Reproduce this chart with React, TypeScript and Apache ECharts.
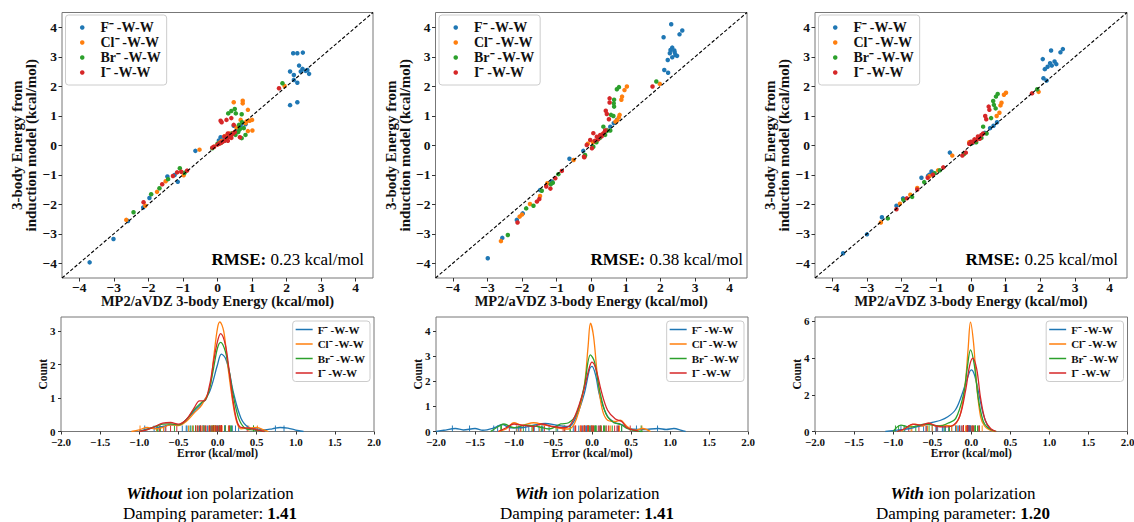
import React, { useEffect, useRef } from 'react';
import * as echarts from 'echarts';

// ---------------- DATA ----------------
const IONS = ['F⁻-W-W', 'Cl⁻-W-W', 'Br⁻-W-W', 'I⁻-W-W'];
const RMSE = ['0.23', '0.38', '0.25'];
const CAPTION_MODE = ['Without', 'With', 'With'];
const DAMPING = ['1.41', '1.41', '1.20'];
const SCATTER_TICKS = [-4, -3, -2, -1, 0, 1, 2, 3, 4];
const KDE_Y_TICKS = [[0, 1, 2, 3], [0, 1, 2, 3, 4], [0, 2, 4, 6]];
const KDE_Y_MAX = [3.43, 4.57, 6.24];
const DIAGONAL = [[-4.5, -4.5], [4.5, 4.5]];

// Panel 1: without ion polarization, damping 1.41  ([MP2, model])
const p1F = [[-3.70,-3.97],[-3.01,-3.18],[-2.59,-2.57],[-2.15,-2.11],[-1.97,-1.79],[-1.45,-1.06],[-1.24,-1.01],[-1.15,-1.24],[-0.64,-0.19],[0.04,0.16],[0.09,0.27],[0.20,0.22],[0.38,0.29],[0.47,0.66],[0.55,0.50],[0.62,0.52],[0.67,0.66],[0.81,0.71],[2.10,1.36],[2.31,1.46],[2.10,2.50],[2.19,3.12],[2.31,3.12],[2.47,3.14],[2.21,2.38],[2.21,2.21],[2.31,2.12],[2.36,2.70],[2.41,2.50],[2.46,2.59],[2.55,2.52],[2.60,2.55],[2.65,2.42]];
const p1Cl = [[-2.64,-2.53],[-2.09,-2.05],[-1.75,-1.58],[-1.50,-1.22],[-0.98,-1.02],[-0.52,-0.15],[-0.10,-0.05],[0.05,0.08],[0.12,0.15],[0.20,0.30],[0.28,0.35],[0.35,0.40],[0.47,1.46],[0.73,1.51],[0.73,1.42],[0.88,1.20],[0.67,0.86],[0.84,0.81],[0.93,0.83],[1.00,0.86],[0.81,0.75],[0.88,0.48],[1.01,0.50],[0.55,0.60],[1.94,2.01]];
const p1Br = [[-2.43,-2.27],[-1.92,-1.66],[-1.68,-1.46],[-1.43,-1.15],[-1.09,-0.78],[-0.95,-0.93],[-0.15,-0.10],[0.00,0.05],[0.10,0.08],[0.20,0.15],[0.31,1.08],[0.40,1.16],[0.50,1.23],[0.53,1.08],[0.70,1.05],[0.71,0.78],[0.62,0.69],[0.76,0.58],[0.81,0.35],[0.70,0.24],[0.52,0.35],[0.43,0.41],[0.35,0.30],[0.60,0.45],[0.65,0.55],[1.88,2.10]];
const p1I = [[-2.14,-1.93],[-1.60,-1.32],[-1.29,-1.04],[-1.17,-0.92],[-1.05,-0.90],[-0.88,-0.86],[-0.15,-0.08],[-0.10,-0.05],[0.00,0.02],[0.05,0.05],[0.10,0.08],[0.15,0.12],[0.20,0.15],[0.25,0.20],[0.30,0.25],[0.35,0.30],[0.40,0.35],[0.45,0.40],[0.50,0.45],[0.20,0.30],[0.30,0.40],[0.30,0.15],[0.40,0.25],[0.09,0.83],[0.12,0.78],[0.26,0.86],[0.40,0.92],[0.47,0.69],[0.65,0.27],[1.78,1.93]];

// Panel 2: with ion polarization, damping 1.41
const p2F = [[-2.99,-3.83],[-2.57,-3.14],[-2.15,-2.53],[-1.98,-2.31],[-1.48,-1.52],[-1.14,-1.23],[-0.63,-0.46],[-0.23,-0.19],[0.10,0.12],[0.26,0.32],[0.45,0.52],[0.55,0.63],[0.65,0.75],[0.74,0.86],[2.09,3.66],[2.31,4.10],[2.63,3.89],[2.55,3.76],[2.34,3.31],[2.29,3.23],[2.40,3.21],[2.27,3.12],[2.43,3.06],[2.21,2.89],[2.34,2.98],[2.48,3.03],[2.41,3.15],[2.11,2.55],[2.22,2.46]];
const p2Cl = [[-2.61,-3.25],[-2.07,-2.42],[-2.00,-2.35],[-1.77,-1.99],[-1.48,-1.72],[-1.27,-1.29],[-0.51,-0.50],[-0.10,0.05],[0.05,0.10],[0.15,0.15],[0.25,0.30],[0.35,0.40],[0.45,0.50],[0.80,0.95],[0.82,1.03],[0.87,1.54],[0.89,1.65],[0.96,1.87],[1.03,1.99],[0.75,0.85],[0.70,0.80],[1.98,2.08]];
const p2Br = [[-2.41,-3.04],[-1.88,-2.14],[-1.67,-2.05],[-1.43,-1.54],[-1.17,-1.32],[-1.11,-1.27],[-0.95,-0.98],[-0.18,-0.36],[-0.18,-0.33],[0.06,-0.05],[0.15,0.10],[0.25,0.25],[0.35,0.63],[0.45,0.48],[0.55,0.50],[0.57,1.03],[0.64,0.99],[0.66,1.31],[0.65,1.42],[0.66,1.54],[0.74,1.90],[0.80,1.97],[0.40,0.35],[1.88,2.16]];
const p2I = [[-2.13,-2.62],[-1.57,-1.91],[-1.50,-1.82],[-1.30,-1.40],[-1.18,-1.47],[-1.04,-1.12],[-0.85,-0.87],[-0.21,-0.39],[-0.20,-0.41],[-0.13,0.01],[0.02,-0.10],[-0.03,0.18],[0.06,0.41],[0.16,0.29],[0.26,0.35],[0.10,0.15],[0.20,0.20],[0.30,0.30],[0.35,0.40],[0.42,1.17],[0.45,1.06],[0.51,0.88],[0.53,1.45],[0.53,1.59],[0.40,0.50],[1.77,1.99]];

// Panel 3: with ion polarization, damping 1.20
const p3F = [[-3.69,-3.66],[-3.00,-3.02],[-2.57,-2.44],[-2.15,-2.05],[-1.96,-1.80],[-1.43,-1.10],[-1.24,-1.04],[-1.14,-0.89],[-1.20,-1.00],[-0.61,-0.25],[0.05,0.08],[0.25,0.28],[0.40,0.42],[0.55,0.58],[0.65,0.66],[0.75,0.78],[2.31,3.21],[2.65,3.26],[2.58,3.15],[2.07,2.92],[2.28,2.78],[2.41,2.84],[2.46,2.75],[2.33,2.70],[2.21,2.66],[2.13,2.58],[2.09,2.27],[2.18,2.19]];
const p3Cl = [[-2.60,-2.62],[-2.05,-1.98],[-1.75,-1.68],[-1.55,-1.45],[-1.20,-1.05],[-0.95,-0.85],[-0.54,-0.35],[-0.05,0.10],[0.10,0.15],[0.20,0.25],[0.74,0.99],[0.82,1.10],[0.85,1.35],[0.88,1.44],[0.95,1.71],[1.01,1.78],[1.95,1.81]];
const p3Br = [[-2.40,-2.48],[-1.95,-1.85],[-1.70,-1.75],[-1.35,-1.25],[-1.05,-0.95],[-0.90,-0.85],[-0.20,-0.30],[0.00,0.05],[0.15,0.10],[0.30,0.25],[0.35,0.63],[0.58,0.92],[0.71,1.25],[0.66,1.37],[0.64,1.50],[0.72,1.65],[0.77,1.74],[0.45,0.40],[1.91,1.90]];
const p3I = [[-2.15,-2.17],[-1.85,-1.80],[-1.55,-1.50],[-1.25,-1.10],[-1.10,-1.00],[-0.80,-0.75],[-0.25,-0.35],[-0.15,-0.25],[-0.05,0.05],[0.00,0.12],[0.05,0.10],[0.10,0.20],[0.15,0.18],[0.20,0.30],[0.25,0.22],[0.30,0.35],[0.35,0.40],[0.41,0.99],[0.44,0.88],[0.51,1.31],[0.53,1.20],[1.76,1.76]];

// KDE curves of the error (kcal/mol) -> density
const k1F = [[-1.0,0],[-0.9,0.08],[-0.8,0.1],[-0.7,0.15],[-0.6,0.2],[-0.5,0.2],[-0.4,0.35],[-0.3,0.6],[-0.2,0.85],[-0.1,1.2],[0,2.0],[0.05,2.32],[0.1,2.2],[0.15,1.8],[0.2,1.2],[0.3,0.4],[0.4,0.12],[0.5,0.08],[0.6,0.05],[0.7,0.08],[0.8,0.12],[0.9,0.1],[1.0,0.04],[1.1,0]];
const k1Cl = [[-1.1,0],[-1.0,0.05],[-0.9,0.12],[-0.8,0.08],[-0.7,0.12],[-0.6,0.2],[-0.5,0.18],[-0.4,0.3],[-0.3,0.55],[-0.2,0.8],[-0.1,1.3],[-0.05,2.2],[0.0,3.1],[0.03,3.28],[0.08,3.0],[0.13,2.0],[0.2,0.8],[0.25,0.25],[0.3,0.08],[0.4,0.1],[0.5,0.12],[0.6,0.04],[0.65,0]];
const k1Br = [[-1.0,0],[-0.9,0.06],[-0.8,0.15],[-0.7,0.22],[-0.6,0.23],[-0.5,0.2],[-0.4,0.35],[-0.3,0.65],[-0.2,0.88],[-0.15,0.95],[-0.1,1.3],[-0.05,1.9],[0.0,2.5],[0.04,2.67],[0.1,2.4],[0.15,1.8],[0.2,1.1],[0.27,0.4],[0.35,0.1],[0.45,0.05],[0.55,0.02],[0.6,0]];
const k1I = [[-1.0,0],[-0.9,0.05],[-0.8,0.15],[-0.7,0.25],[-0.6,0.27],[-0.5,0.22],[-0.4,0.35],[-0.3,0.7],[-0.23,0.92],[-0.17,0.92],[-0.1,1.4],[-0.05,2.1],[0.0,2.7],[0.04,2.93],[0.1,2.6],[0.15,1.8],[0.2,0.9],[0.25,0.3],[0.3,0.12],[0.4,0.1],[0.5,0.05],[0.6,0]];

const k2F = [[-2.0,0],[-1.9,0.05],[-1.75,0.12],[-1.65,0.06],[-1.5,0.12],[-1.4,0.05],[-1.25,0.15],[-1.15,0.28],[-1.05,0.15],[-0.9,0.15],[-0.75,0.25],[-0.6,0.32],[-0.45,0.25],[-0.3,0.2],[-0.2,0.6],[-0.1,1.5],[-0.03,2.5],[0.0,2.6],[0.05,2.2],[0.1,1.4],[0.2,0.6],[0.3,0.35],[0.4,0.25],[0.5,0.1],[0.65,0.08],[0.85,0.12],[0.95,0.08],[1.05,0.12],[1.15,0.04],[1.2,0]];
const k2Cl = [[-1.2,0],[-1.1,0.1],[-1.0,0.35],[-0.9,0.25],[-0.75,0.35],[-0.6,0.25],[-0.45,0.15],[-0.3,0.1],[-0.2,0.5],[-0.1,1.8],[-0.05,3.4],[-0.02,4.32],[0.02,3.8],[0.07,2.2],[0.13,0.9],[0.2,0.45],[0.3,0.4],[0.36,0.45],[0.45,0.2],[0.55,0.05],[0.65,0.12],[0.75,0]];
const k2Br = [[-1.3,0],[-1.2,0.2],[-1.13,0.3],[-1.0,0.15],[-0.85,0.25],[-0.7,0.2],[-0.55,0.1],[-0.4,0.3],[-0.3,0.35],[-0.2,0.7],[-0.1,1.8],[-0.02,3.06],[0.03,2.8],[0.1,1.6],[0.18,0.7],[0.28,0.35],[0.36,0.3],[0.45,0.12],[0.55,0.03],[0.65,0]];
const k2I = [[-1.2,0],[-1.1,0.15],[-1.0,0.3],[-0.9,0.25],[-0.75,0.2],[-0.65,0.3],[-0.5,0.2],[-0.35,0.15],[-0.25,0.4],[-0.12,1.5],[-0.03,2.6],[0.0,2.77],[0.05,2.5],[0.12,1.6],[0.2,0.85],[0.3,0.5],[0.38,0.4],[0.45,0.15],[0.55,0.05],[0.6,0]];

const k3F = [[-1.1,0],[-1.0,0.05],[-0.9,0.1],[-0.8,0.15],[-0.7,0.25],[-0.6,0.35],[-0.5,0.5],[-0.4,0.6],[-0.3,0.8],[-0.2,1.2],[-0.12,2.0],[-0.05,2.9],[0.0,3.36],[0.04,3.1],[0.1,2.0],[0.15,1.0],[0.2,0.4],[0.25,0.1],[0.3,0]];
const k3Cl = [[-0.9,0],[-0.8,0.3],[-0.72,0.4],[-0.62,0.3],[-0.55,0.45],[-0.45,0.3],[-0.35,0.35],[-0.25,0.3],[-0.15,0.8],[-0.08,2.5],[-0.04,4.5],[-0.01,5.96],[0.03,4.8],[0.07,2.5],[0.12,0.8],[0.17,0.3],[0.23,0.1],[0.3,0]];
const k3Br = [[-1.0,0],[-0.9,0.35],[-0.8,0.25],[-0.7,0.3],[-0.6,0.4],[-0.5,0.35],[-0.4,0.3],[-0.3,0.45],[-0.2,0.7],[-0.1,2.0],[-0.05,3.5],[-0.01,4.45],[0.04,3.6],[0.09,1.8],[0.15,0.6],[0.2,0.25],[0.28,0.05],[0.32,0]];
const k3I = [[-0.95,0],[-0.85,0.15],[-0.75,0.4],[-0.65,0.35],[-0.55,0.45],[-0.45,0.3],[-0.35,0.25],[-0.25,0.3],[-0.15,0.8],[-0.07,2.3],[-0.02,3.6],[0.02,4.0],[0.07,3.4],[0.12,1.8],[0.18,0.6],[0.25,0.15],[0.32,0]];

const SCATTER = [[p1F, p1Cl, p1Br, p1I], [p2F, p2Cl, p2Br, p2I], [p3F, p3Cl, p3Br, p3I]];
const KDE = [[k1F, k1Cl, k1Br, k1I], [k2F, k2Cl, k2Br, k2I], [k3F, k3Cl, k3Br, k3I]];

// ---------------- STYLE / LAYOUT ----------------
const COLORS = ['#1f77b4', '#ff7f0e', '#2ca02c', '#d62728'];
const FONT = 'Liberation Serif';
const TXT = '#111';
const SG = [
  { left: 62, top: 12.5, width: 311, height: 265.5 },
  { left: 435.5, top: 12.5, width: 311.5, height: 265.5 },
  { left: 815, top: 12.5, width: 312, height: 265.5 },
];
const KG = [
  { left: 61, top: 317, width: 313, height: 114.5 },
  { left: 436, top: 317, width: 312, height: 114.5 },
  { left: 815, top: 317, width: 312.5, height: 114.5 },
];
const RMSE_X = [364, 743, 1118];
const CAPTION_X = [210, 587, 963];

const fmt = (v: number, d: number) => (v < 0 ? '\u2212' : '') + Math.abs(v).toFixed(d);
const legendLabel = (n: string) => n.replace('⁻', '⁻\u2009');

function buildOption() {
  const grid: any[] = [];
  const xAxis: any[] = [];
  const yAxis: any[] = [];
  const series: any[] = [];
  const legend: any[] = [];
  const graphic: any[] = [];

  const tickStyle = { lineStyle: { color: '#333', width: 1 } };
  const noLine = { show: false, onZero: false };
  const tok = (size: number, extra: any = {}) => ({ fontFamily: FONT, fontSize: size, fill: '#000', ...extra });

  [...SG, ...KG].forEach((g) => {
    grid.push({ ...g, show: true, borderColor: '#777', borderWidth: 1, backgroundColor: 'transparent', containLabel: false, outerBoundsMode: 'none' });
  });

  // scatter panels
  SG.forEach((g, i) => {
    xAxis.push({
      type: 'value', gridIndex: i, min: -4.5, max: 4.5,
      splitLine: { show: false }, axisLine: noLine,
      axisTick: { show: true, length: 3.5, customValues: SCATTER_TICKS, ...tickStyle },
      axisLabel: { customValues: SCATTER_TICKS, formatter: (v: number) => fmt(v, 0), fontFamily: FONT, fontWeight: 'bold', fontSize: 13.5, lineHeight: 13, color: TXT, margin: 3 },
      name: 'MP2/aVDZ 3-body Energy (kcal/mol)', nameLocation: 'middle', nameGap: 16, nameMoveOverlap: false,
      nameTextStyle: { fontFamily: FONT, fontWeight: 'bold', fontSize: 14.5, lineHeight: 14, color: TXT },
    });
    yAxis.push({
      type: 'value', gridIndex: i, min: -4.5, max: 4.5,
      splitLine: { show: false }, axisLine: noLine,
      axisTick: { show: true, length: 3.5, customValues: SCATTER_TICKS, ...tickStyle },
      axisLabel: { customValues: SCATTER_TICKS, formatter: (v: number) => fmt(v, 0), fontFamily: FONT, fontWeight: 'bold', fontSize: 13.5, color: TXT, margin: 5 },
      name: '3-body Energy from\ninduction model (kcal/mol)', nameLocation: 'middle', nameRotate: 90, nameGap: 24, nameMoveOverlap: false,
      nameTextStyle: { fontFamily: FONT, fontWeight: 'bold', fontSize: 15, lineHeight: 14, color: TXT },
    });
    SCATTER[i].forEach((pts, j) => {
      series.push({
        type: 'scatter', name: IONS[j], xAxisIndex: i, yAxisIndex: i, data: pts,
        symbolSize: 4.5, itemStyle: { color: COLORS[j], opacity: 1 }, z: 3, silent: true,
      });
    });
    series.push({
      type: 'line', name: 'diag', xAxisIndex: i, yAxisIndex: i, data: DIAGONAL, symbol: 'none',
      lineStyle: { color: '#000', width: 1.1, type: [3.5, 2] }, z: 5, silent: true,
    });
    legend.push({
      orient: 'vertical', left: g.left + 3.5, top: 15, selectedMode: false,
      data: IONS.map((n) => ({ name: n, icon: 'circle' })),
      formatter: legendLabel,
      itemWidth: 4.5, itemHeight: 4.5, itemGap: 1, padding: [5.5, 6, 5.5, 14.5],
      backgroundColor: '#fff', borderColor: '#ccc', borderWidth: 1, borderRadius: 3,
      textStyle: { fontFamily: FONT, fontWeight: 'bold', fontSize: 14, color: TXT, padding: [0, 0, 0, 11] },
    });
    graphic.push({
      type: 'text', x: RMSE_X[i], y: 259, silent: true,
      style: {
        text: `{b|RMSE:}{r| ${RMSE[i]} kcal/mol}`, align: 'right', verticalAlign: 'middle',
        fontFamily: FONT, fontSize: 17, fill: '#000',
        rich: { b: tok(17, { fontWeight: 'bold' }), r: tok(17) },
      },
    });
  });

  // KDE panels
  KG.forEach((g, i) => {
    const gi = 3 + i;
    xAxis.push({
      type: 'value', gridIndex: gi, min: -2, max: 2, interval: 0.5,
      splitLine: { show: false }, axisLine: noLine,
      axisTick: { show: true, length: 3, ...tickStyle },
      axisLabel: { formatter: (v: number) => fmt(v, 1), fontFamily: FONT, fontWeight: 'bold', fontSize: 11, lineHeight: 11, color: TXT, margin: 5 },
      name: 'Error (kcal/mol)', nameLocation: 'middle', nameGap: 16, nameMoveOverlap: false,
      nameTextStyle: { fontFamily: FONT, fontWeight: 'bold', fontSize: 11.5, lineHeight: 11, color: TXT },
    });
    yAxis.push({
      type: 'value', gridIndex: gi, min: 0, max: KDE_Y_MAX[i],
      splitLine: { show: false }, axisLine: noLine,
      axisTick: { show: true, length: 3, customValues: KDE_Y_TICKS[i], ...tickStyle },
      axisLabel: { customValues: KDE_Y_TICKS[i], fontFamily: FONT, fontWeight: 'bold', fontSize: 11, lineHeight: 10, color: TXT, margin: 5.5 },
      name: 'Count', nameLocation: 'middle', nameRotate: 90, nameGap: 12.5, nameMoveOverlap: false,
      nameTextStyle: { fontFamily: FONT, fontWeight: 'bold', fontSize: 11.5, color: TXT },
    });
    KDE[i].forEach((curve, j) => {
      series.push({
        type: 'line', name: IONS[j], xAxisIndex: gi, yAxisIndex: gi, data: curve,
        symbol: 'none', smooth: 0.35, lineStyle: { color: COLORS[j], width: 1.3 }, itemStyle: { color: COLORS[j] },
        z: 3, silent: true,
      });
      // rug of the errors (MP2 - model) of the same points
      const rug = SCATTER[i][j].map(([x, y]) => [+(x - y).toFixed(3), 0]).filter(([e]) => e >= -2 && e <= 2);
      series.push({
        type: 'scatter', name: IONS[j], xAxisIndex: gi, yAxisIndex: gi, data: rug,
        symbol: 'rect', symbolSize: [1, 6], symbolOffset: [0, -3],
        itemStyle: { color: COLORS[j], opacity: 0.95 }, z: 2, silent: true,
      });
    });
    legend.push({
      orient: 'vertical', right: 1134 - (g.left + g.width) + 4, top: 321, selectedMode: false,
      data: IONS.map((n) => ({ name: n, icon: 'rect' })),
      formatter: legendLabel,
      itemWidth: 17, itemHeight: 1.5, itemGap: 3.5, padding: [3, 5, 3, 3],
      backgroundColor: '#fff', borderColor: '#ccc', borderWidth: 1, borderRadius: 3,
      textStyle: { fontFamily: FONT, fontWeight: 'bold', fontSize: 11, color: TXT },
    });
    graphic.push({
      type: 'text', x: CAPTION_X[i], y: 493, silent: true,
      style: {
        text: `{i|${CAPTION_MODE[i]}}{r| ion polarization}`, align: 'center', verticalAlign: 'middle',
        fontFamily: FONT, fontSize: 17, fill: '#000',
        rich: { i: tok(17, { fontStyle: 'italic', fontWeight: 'bold' }), r: tok(17) },
      },
    });
    graphic.push({
      type: 'text', x: CAPTION_X[i], y: 513, silent: true,
      style: {
        text: `{r|Damping parameter: }{b|${DAMPING[i]}}`, align: 'center', verticalAlign: 'middle',
        fontFamily: FONT, fontSize: 17, fill: '#000',
        rich: { b: tok(17, { fontWeight: 'bold' }), r: tok(17) },
      },
    });
  });

  return {
    animation: false,
    backgroundColor: '#fff',
    textStyle: { fontFamily: FONT },
    tooltip: { show: false },
    grid, xAxis, yAxis, series, legend, graphic,
  };
}

export default function App() {
  const ref = useRef<HTMLDivElement>(null);
  useEffect(() => {
    if (!ref.current) return;
    const chart = echarts.init(ref.current, undefined, { renderer: 'svg' });
    chart.setOption(buildOption() as any);
    return () => chart.dispose();
  }, []);
  return <div ref={ref} style={{ position: 'absolute', left: 0, top: 0, width: 1134, height: 522 }} />;
}
